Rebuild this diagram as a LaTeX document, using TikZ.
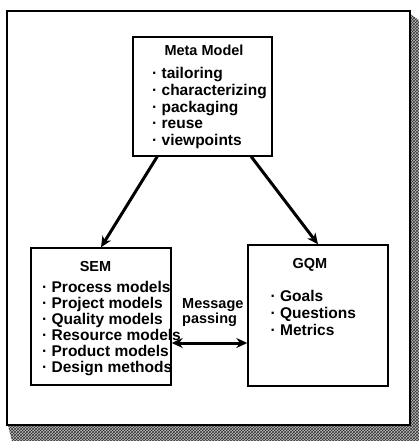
\documentclass[tikz,border=0pt]{standalone}
\usepackage{fontspec}
\setmainfont{Liberation Sans}
\usetikzlibrary{arrows.meta,patterns}

\tikzset{
  box/.style = {draw, line width=1.4pt, rectangle, inner sep=0pt},
  boxtitle/.style = {inner sep=0pt, font=\fontsize{14.5}{16}\selectfont\bfseries},
  item/.style = {anchor=west, inner sep=0pt, text height=10pt, text depth=3pt,
                 font=\fontsize{15.5}{16}\selectfont\bfseries},
  link/.style = {line width=3pt, -{Stealth[length=11pt,width=10pt]}},
}

\begin{document}
\begin{tikzpicture}[x=1pt, y=-1pt]
  \useasboundingbox (0,0) rectangle (419,441);
  % shadow and frame
  \fill[gray!50] (410,14) -- (419,20) -- (419,441) -- (12,441) -- (8,425) -- (410,425) -- cycle;
  \fill[pattern=crosshatch, pattern color=black!80] (410,14) -- (419,20) -- (419,441) -- (12,441) -- (8,425) -- (410,425) -- cycle;
  \draw[line width=1.2pt, fill=white] (7,11) rectangle (410,425);

  % the three boxes
  \node[box, minimum width=139pt, minimum height=119pt] (meta) at (202.5,96.5) {};
  \node[box, minimum width=140pt, minimum height=137pt] (sem) at (101,316.5) {};
  \node[box, minimum width=140pt, minimum height=141pt] (gqm) at (318,315.5) {};

  \node[boxtitle] (meta-t) at (204,50) {Meta Model};
  \node[boxtitle] (sem-t) at (95.5,267) {SEM};
  \node[boxtitle] (gqm-t) at (310,265) {GQM};

  \foreach \t [count=\i] in {tailoring, characterizing, packaging, reuse, viewpoints}
    \node[item] (meta-\i) at (152, 58.25+16.75*\i) {·\ \t};
  \foreach \t [count=\i] in {Process models, Project models, Quality models,
                             Resource models, Product models, Design methods}
    \node[item] (sem-\i) at (42, 273+16*\i) {·\ \t};
  \foreach \t [count=\i] in {Goals, Questions, Metrics}
    \node[item] (gqm-\i) at (270.5, 281+17*\i) {·\ \t};

  \node[item, align=left, text height=, text depth=, font=\fontsize{14.5}{15}\selectfont\bfseries]
    (msg) at (182,312.5) {Message\\passing};

  % connectors
  \draw[link] (meta.233.8) -- (sem.north);
  \draw[link] (meta.309.8) -- (gqm.north);
  \draw[link, {Stealth[length=11pt,width=10pt]}-{Stealth[length=11pt,width=10pt]}]
    ([yshift=-26.5pt]sem.east) -- ([yshift=-27.5pt]gqm.west);
\end{tikzpicture}
\end{document}
